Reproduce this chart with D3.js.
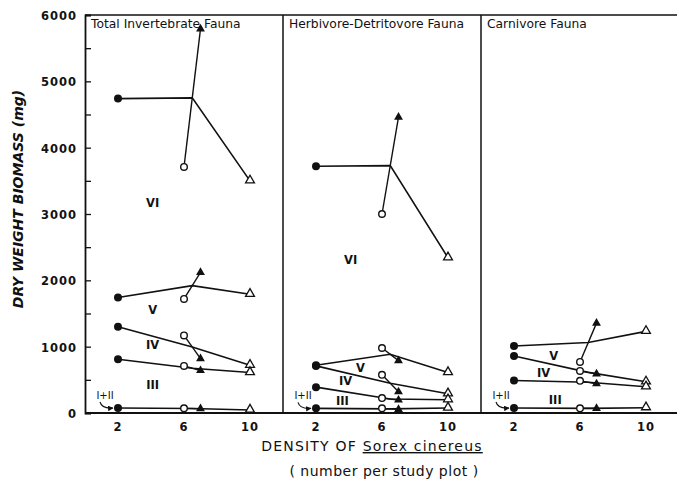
<!DOCTYPE html>
<html>
<head>
<meta charset="utf-8">
<script src="https://cdn.jsdelivr.net/npm/d3@7"></script>
<style>
  body{margin:0;background:#fff;}
  svg{display:block;}
  text{font-family:"DejaVu Sans",Verdana,sans-serif;fill:#111;}
</style>
</head>
<body>
<svg id="chart" width="677" height="482"></svg>
<script>
// densities at which each boundary was measured
const densities = [2, 6, 7, 10];
const xTicks = [2, 6, 10];
const yTicks = [0, 1000, 2000, 3000, 4000, 5000, 6000];
const panelTitles = ["Total Invertebrate Fauna", "Herbivore-Detritovore Fauna", "Carnivore Fauna"];

// cumulative biomass boundaries (top of VI, V, IV, III, I+II) at densities 2, 6, 7, 10
const totalCurves = [
  [4740, 3710, 5790, 3500],
  [1740, 1720, 2120, 1790],
  [1300, 1170, 820, 720],
  [810, 710, 640, 610],
  [75, 70, 65, 45]
];
const herbCurves = [
  [3720, 3000, 4460, 2340],
  [720, 980, 790, 610],
  [710, 575, 320, 290],
  [390, 225, 195, 200],
  [70, 70, 55, 75]
];
const carnCurves = [
  [1010, 770, 1355, 1230],
  [860, 635, 590, 470],
  [490, 485, 440, 395],
  [75, 70, 70, 80]
];

// region labels: [density, biomass, text]
const totalLabels = [[4.1, 3100, "VI"], [4.1, 1500, "V"], [4.1, 960, "IV"], [4.1, 360, "III"]];
const herbLabels = [[4.1, 2250, "VI"], [4.7, 620, "V"], [3.8, 420, "IV"], [3.6, 120, "III"]];
const carnLabels = [[4.4, 800, "V"], [3.8, 540, "IV"], [4.5, 130, "III"]];
const panelCurves = [totalCurves, herbCurves, carnCurves];
const panelLabels = [totalLabels, herbLabels, carnLabels];

const svg = d3.select("#chart");
const plotLeft = 85, plotTop = 15, plotBottom = 413, panelW = 198;

const y = d3.scaleLinear().domain([0, 6000]).range([plotBottom, plotTop]);
const x = d3.scaleLinear().domain([0, 12]).range([0, panelW]);

// frame
svg.append("line").attr("x1", plotLeft).attr("x2", 677).attr("y1", plotTop).attr("y2", plotTop)
  .attr("stroke", "#111").attr("stroke-width", 1.5);
svg.append("line").attr("x1", plotLeft).attr("x2", 677).attr("y1", plotBottom).attr("y2", plotBottom)
  .attr("stroke", "#111").attr("stroke-width", 2.2);

// y axis
const yAxis = svg.append("g").attr("transform", "translate(" + plotLeft + ",0)")
  .call(d3.axisRight(y).tickValues(d3.range(0, 6001, 500)).tickSize(6).tickFormat(""));
yAxis.select(".domain").attr("stroke-width", 1.8).attr("stroke", "#111");
yAxis.selectAll(".tick line").attr("stroke-width", 1.3).attr("stroke", "#111");

svg.selectAll(".ylab").data(yTicks).enter().append("text")
  .attr("x", plotLeft - 8).attr("y", d => y(d) + 5)
  .attr("text-anchor", "end")
  .style("font-size", "11.5px").style("font-weight", "bold").style("letter-spacing", "1px")
  .text(d => d);

svg.append("text")
  .attr("transform", "translate(23,199) rotate(-90)")
  .attr("text-anchor", "middle")
  .style("font-size", "14px").style("font-weight", "bold").style("font-style", "italic")
  .text("DRY WEIGHT BIOMASS (mg)");

// arrow head for the I+II labels
svg.append("defs").append("marker")
  .attr("id", "arrow").attr("viewBox", "0 0 10 10").attr("refX", 9).attr("refY", 5)
  .attr("markerWidth", 5).attr("markerHeight", 5).attr("orient", "auto")
  .append("path").attr("d", "M0,0L10,5L0,10z").attr("fill", "#111");

const line = d3.line().x(d => x(d[0])).y(d => y(d[1]));

panelCurves.forEach((curves, p) => {
  const g = svg.append("g").attr("transform", "translate(" + (plotLeft + p * panelW) + ",0)");

  if (p > 0) {
    g.append("line").attr("x1", 0).attr("x2", 0).attr("y1", plotTop).attr("y2", plotBottom)
      .attr("stroke", "#111").attr("stroke-width", 1.5);
  }

  g.append("text").attr("x", 6).attr("y", plotTop + 13)
    .style("font-size", "12.3px").text(panelTitles[p]);

  g.selectAll(".xlab").data(xTicks).enter().append("text")
    .attr("x", d => x(d)).attr("y", plotBottom + 18)
    .attr("text-anchor", "middle")
    .style("font-size", "11.5px").style("font-weight", "bold").style("letter-spacing", "1px")
    .text(d => d);

  curves.forEach(v => {
    // main line passes through the middle of the 6-7 segment
    const mid = [(densities[1] + densities[2]) / 2, (v[1] + v[2]) / 2];
    g.append("path").datum([[densities[0], v[0]], mid, [densities[3], v[3]]])
      .attr("d", line).attr("fill", "none").attr("stroke", "#111").attr("stroke-width", 1.6);
    g.append("path").datum([[densities[1], v[1]], [densities[2], v[2]]])
      .attr("d", line).attr("fill", "none").attr("stroke", "#111").attr("stroke-width", 1.4);

    g.append("circle").attr("cx", x(densities[0])).attr("cy", y(v[0])).attr("r", 4)
      .attr("fill", "#111");
    g.append("circle").attr("cx", x(densities[1])).attr("cy", y(v[1])).attr("r", 3.3)
      .attr("fill", "#fff").attr("stroke", "#111").attr("stroke-width", 1.4);
    g.append("path").attr("d", d3.symbol(d3.symbolTriangle, 34)())
      .attr("transform", "translate(" + x(densities[2]) + "," + y(v[2]) + ")")
      .attr("fill", "#111");
    g.append("path").attr("d", d3.symbol(d3.symbolTriangle, 34)())
      .attr("transform", "translate(" + x(densities[3]) + "," + (y(v[3]) - 0.5) + ")")
      .attr("fill", "#fff").attr("stroke", "#111").attr("stroke-width", 1.3);
  });

  g.selectAll(".region").data(panelLabels[p]).enter().append("text")
    .attr("x", d => x(d[0])).attr("y", d => y(d[1]))
    .attr("text-anchor", "middle")
    .style("font-size", "11.5px").style("font-weight", "bold")
    .text(d => d[2]);

  // I+II label with curved arrow to the lowest point at density 2
  const low = curves[curves.length - 1][0];
  const lx = x(densities[0]) - 13, ly = y(low) - 9;
  g.append("text").attr("x", lx).attr("y", ly)
    .attr("text-anchor", "middle").style("font-size", "10px").style("fill", "#111").text("I+II");
  g.append("path")
    .attr("d", "M" + (lx - 5) + "," + (ly + 3) + " Q" + (lx - 3) + "," + (y(low) + 1) + " " + (x(densities[0]) - 5) + "," + y(low))
    .attr("fill", "none").attr("stroke", "#111").attr("stroke-width", 1.1)
    .attr("marker-end", "url(#arrow)");
});

// x axis title
const title = svg.append("text").attr("x", 372).attr("y", 451)
  .attr("text-anchor", "middle").style("font-size", "14px").style("letter-spacing", "1.2px");
title.append("tspan").text("DENSITY OF ");
title.append("tspan").style("text-decoration", "underline").text("Sorex cinereus");

svg.append("text").attr("x", 384).attr("y", 476)
  .attr("text-anchor", "middle").style("font-size", "14px").style("letter-spacing", "0.5px")
  .text("( number per study plot )");
</script>
</body>
</html>
